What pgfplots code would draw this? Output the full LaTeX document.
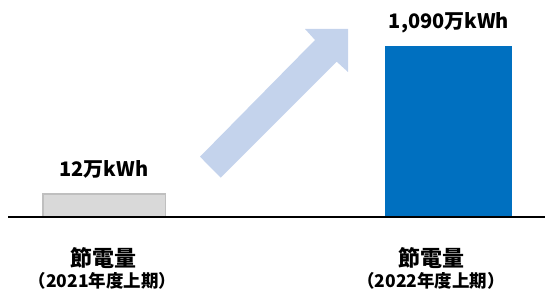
\documentclass[border=0pt]{standalone}
\usepackage{fontspec}
\setmainfont{Noto Sans CJK JP}
\usepackage{pgfplots}
\pgfplotsset{compat=1.18}
\definecolor{barblue}{HTML}{0070C0}
\definecolor{bargray}{HTML}{D9D9D9}
\definecolor{bargrayedge}{HTML}{BFBFBF}
\definecolor{arrowblue}{HTML}{C4D3EC}
\definecolor{baseline}{HTML}{808080}
\begin{document}
\begin{tikzpicture}
\begin{axis}[
  x=1pt, y=1pt,
  xmin=0, xmax=545, ymin=-81, ymax=217,
  hide axis, clip=false,
  ybar, bar shift=0pt,
]
\coordinate (bl) at (axis cs:0,-81);
\coordinate (tr) at (axis cs:545,217);
% decorative arrow
\fill[arrowblue] (axis cs:305,188) -- (axis cs:348,188) -- (axis cs:348,145)
  -- (axis cs:336.7,155.3) -- (axis cs:220.7,39.3) -- (axis cs:200,60.3)
  -- (axis cs:315,177) -- cycle;
% bars (heights as drawn in the reference)
\addplot[fill=bargray, draw=bargrayedge, line width=1.5pt, bar width=122.5] coordinates {(104,23.2)};
\addplot[fill=barblue, draw=none, bar width=127] coordinates {(448.5,171)};
% baseline
\draw[baseline, line width=1.5pt] (axis cs:8,0) -- (axis cs:545,0);
% value labels
\node[anchor=base, font=\bfseries\fontsize{20}{24}\selectfont] at (axis cs:104,41) {12万kWh};
\node[anchor=base, font=\bfseries\fontsize{20}{24}\selectfont] at (axis cs:449,188) {1,090万kWh};
% category labels
\node[anchor=base, font=\bfseries\fontsize{22}{26}\selectfont] at (axis cs:103,-49) {節電量};
\node[anchor=base, font=\bfseries\fontsize{17.5}{20}\selectfont] at (axis cs:102.5,-70) {（2021年度上期）};
\node[anchor=base, font=\bfseries\fontsize{22}{26}\selectfont] at (axis cs:431,-49) {節電量};
\node[anchor=base, font=\bfseries\fontsize{17.5}{20}\selectfont] at (axis cs:431,-70) {（2022年度上期）};
\end{axis}
\pgfresetboundingbox
\useasboundingbox (bl) rectangle (tr);
\end{tikzpicture}
\end{document}
